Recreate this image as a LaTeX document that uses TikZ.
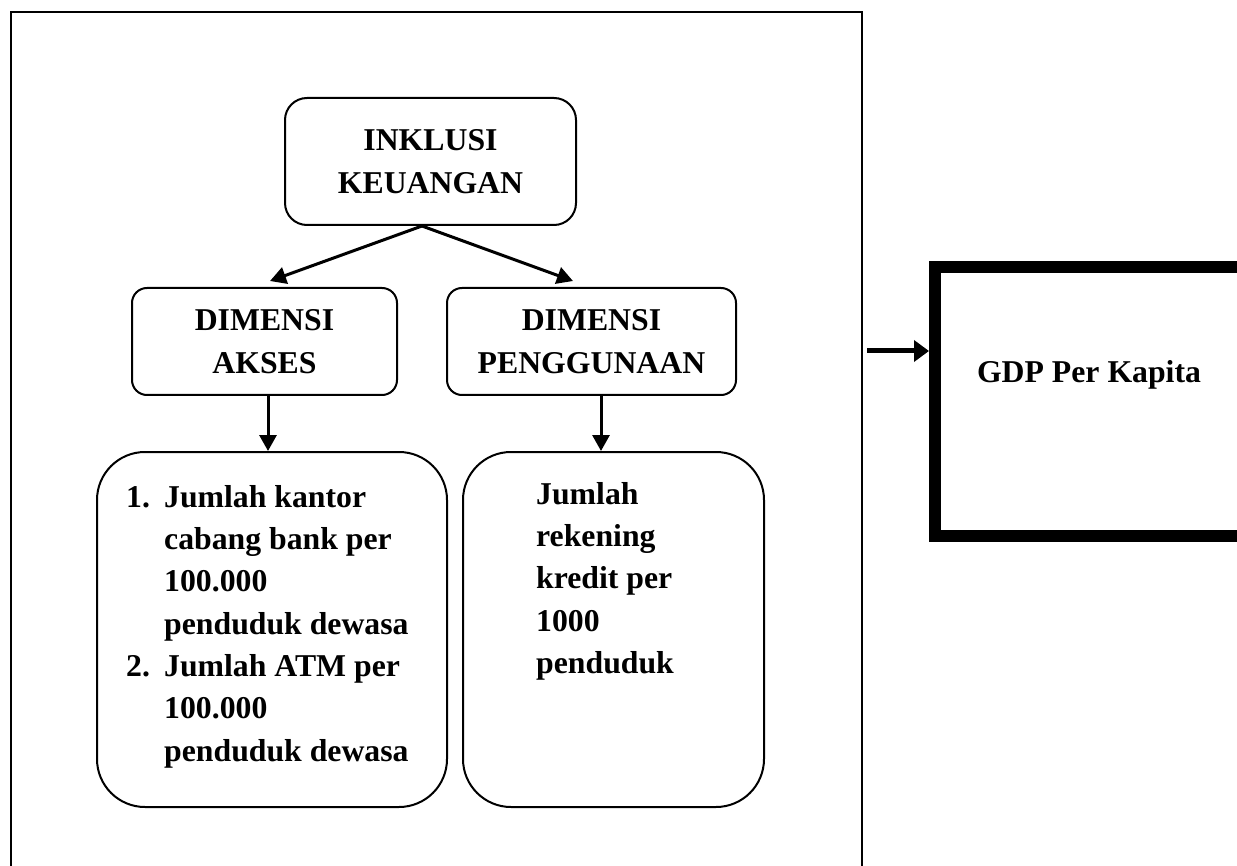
\documentclass[tikz,border=0pt]{standalone}
\usepackage{fontspec}
\setmainfont{Liberation Serif}
\usepackage{tikz}
\usetikzlibrary{arrows.meta, positioning}

\newcommand{\listno}[1]{\makebox[38pt][l]{#1}}

\begin{document}
\begin{tikzpicture}[x=1pt, y=-1pt,
        font=\fontsize{31.75}{42.3}\selectfont\bfseries,
        box/.style={draw, line width=2pt, rounded corners=#1, align=center, inner sep=0pt},
        box/.default=15pt,
        flow/.style={line width=3pt, -{Triangle[length=16pt, width=17pt]}},
        listtext/.style={align=left, inner sep=0pt}]

        \useasboundingbox (0,0) rectangle (1237,866);
        \clip (0,0) rectangle (1237,866);

        \draw[line width=2.2pt] (11,12) rectangle (862,900);

        \node[box=22pt, minimum width=291pt, minimum height=127pt]    (inklusi)   at (430.5,161.5)   {INKLUSI\\KEUANGAN};
        \node[box, minimum width=265pt, minimum height=107pt]         (akses)     at (264.5,341.5)   {DIMENSI\\AKSES};
        \node[box, minimum width=289pt, minimum height=107pt]         (guna)      at (591.5,341.5)   {DIMENSI\\PENGGUNAAN};

        \node[box=48pt, minimum width=350pt, minimum height=355pt]    (indakses)  at (272,629.5)     {};
        \node[box=48pt, minimum width=301pt, minimum height=355pt]    (indguna)   at (613.5,629.5)   {};

        \node[listtext, below right=34pt and 30pt of indakses.north west] (txtakses) {
            \listno{1.}Jumlah kantor\\
            \listno{}cabang bank per\\
            \listno{}100.000\\
            \listno{}penduduk dewasa\\
            \listno{2.}Jumlah ATM per\\
            \listno{}100.000\\
            \listno{}penduduk dewasa};
        \node[listtext, below right=31pt and 74pt of indguna.north west]  (txtguna)  {
            Jumlah\\
            rekening\\
            kredit per\\
            1000\\
            penduduk};

        \node[draw, line width=12pt, minimum width=308pt, minimum height=269pt] (gdp) at (1089,401.5) {};
        \node (gdptxt) at ([yshift=26.5pt]gdp.center) {GDP Per Kapita};

        \coordinate (split)   at ([xshift=-8.5pt]inklusi.south);
        \coordinate (aksesout) at ([xshift=3.5pt]akses.south);
        \coordinate (gunaout)  at ([xshift=9.5pt]guna.south);
        \coordinate (gdpin)   at (867,351);

        \draw[flow] (split) -- ([xshift=5.5pt, yshift=6pt]akses.north);
        \draw[flow] (split) -- ([xshift=-18.5pt, yshift=6pt]guna.north);
        \draw[flow] (aksesout) -- (aksesout |- indakses.north);
        \draw[flow] (gunaout) -- (gunaout |- indguna.north);
        \draw[line width=5pt, -{Triangle[length=15pt, width=21pt]}] (gdpin) -- (gdpin -| gdp.west);
    \end{tikzpicture}
\end{document}
